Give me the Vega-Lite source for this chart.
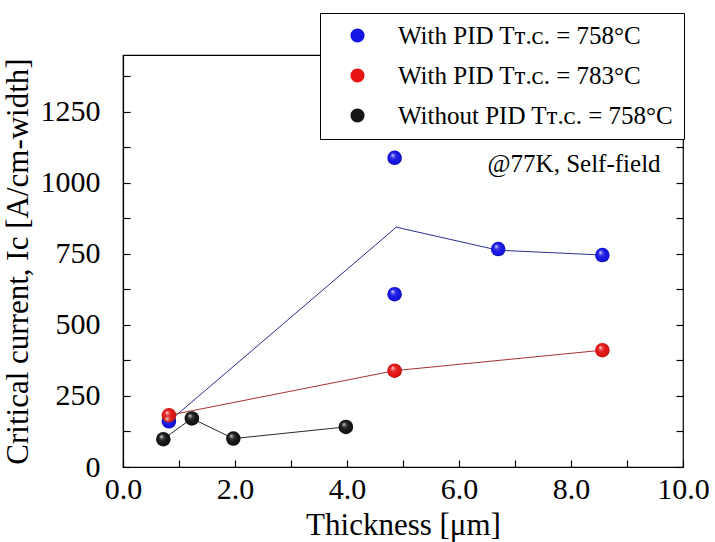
{
  "$schema": "https://vega.github.io/schema/vega-lite/v6.json",
  "width": 560,
  "height": 412,
  "autosize": "none",
  "padding": {"left": 123, "top": 55, "right": 32, "bottom": 75},
  "background": "white",
  "config": {"view": {"stroke": "black", "strokeWidth": 1.2}, "font": "Liberation Serif"},
  "datasets": {
    "pts": [
      {"series": "With PID Tᴛ.ᴄ. = 758°C", "thickness": 0.82, "ic": 161},
      {"series": "With PID Tᴛ.ᴄ. = 758°C", "thickness": 4.85, "ic": 1088},
      {"series": "With PID Tᴛ.ᴄ. = 758°C", "thickness": 4.85, "ic": 608},
      {"series": "With PID Tᴛ.ᴄ. = 758°C", "thickness": 6.70, "ic": 767},
      {"series": "With PID Tᴛ.ᴄ. = 758°C", "thickness": 8.56, "ic": 746},
      {"series": "With PID Tᴛ.ᴄ. = 783°C", "thickness": 0.82, "ic": 182},
      {"series": "With PID Tᴛ.ᴄ. = 783°C", "thickness": 4.85, "ic": 339},
      {"series": "With PID Tᴛ.ᴄ. = 783°C", "thickness": 8.56, "ic": 411},
      {"series": "Without PID Tᴛ.ᴄ. = 758°C", "thickness": 0.72, "ic": 98},
      {"series": "Without PID Tᴛ.ᴄ. = 758°C", "thickness": 1.23, "ic": 171},
      {"series": "Without PID Tᴛ.ᴄ. = 758°C", "thickness": 1.97, "ic": 100},
      {"series": "Without PID Tᴛ.ᴄ. = 758°C", "thickness": 3.98, "ic": 141}
    ],
    "lines": [
      {"series": "A", "thickness": 0.85, "ic": 165},
      {"series": "A", "thickness": 4.88, "ic": 844},
      {"series": "A", "thickness": 6.70, "ic": 763},
      {"series": "A", "thickness": 8.56, "ic": 746},
      {"series": "B", "thickness": 0.82, "ic": 182},
      {"series": "B", "thickness": 4.85, "ic": 339},
      {"series": "B", "thickness": 8.56, "ic": 411},
      {"series": "C", "thickness": 0.72, "ic": 98},
      {"series": "C", "thickness": 1.23, "ic": 171},
      {"series": "C", "thickness": 1.97, "ic": 100},
      {"series": "C", "thickness": 3.98, "ic": 141}
    ]
  },
  "resolve": {"axis": {"x": "independent", "y": "independent"}},
  "layer": [
    {
      "data": {"name": "lines"},
      "mark": {"type": "line", "strokeWidth": 1},
      "encoding": {
        "x": {"field": "thickness", "type": "quantitative", "scale": {"domain": [0, 10], "nice": false}, "axis": null},
        "y": {"field": "ic", "type": "quantitative", "scale": {"domain": [0, 1450], "nice": false}, "axis": null},
        "stroke": {"field": "series", "type": "nominal", "scale": {"domain": ["A", "B", "C"], "range": ["#2b2f8f", "#a83232", "#2a2a2a"]}, "legend": null}
      }
    },
    {
      "data": {"name": "pts"},
      "mark": {"type": "circle", "size": 210, "opacity": 1},
      "encoding": {
        "x": {
          "field": "thickness", "type": "quantitative",
          "title": "Thickness [μm]",
          "axis": {
            "values": [0, 1, 2, 3, 4, 5, 6, 7, 8, 9, 10],
            "labelExpr": "datum.value % 2 == 0 ? format(datum.value, '.1f') : ''",
            "tickSize": -7, "tickColor": "black", "tickWidth": 1.2,
            "labelPadding": 14, "labelFontSize": 30, "labelColor": "black",
            "titleFontSize": 31, "titleFontWeight": "normal", "titleColor": "black", "titlePadding": 6,
            "domainColor": "black", "domainWidth": 1.2, "grid": false, "labelFlush": false, "labelOverlap": false
          }
        },
        "y": {
          "field": "ic", "type": "quantitative",
          "title": "Critical current, Ic [A/cm-width]",
          "axis": {
            "values": [0, 125, 250, 375, 500, 625, 750, 875, 1000, 1125, 1250, 1375],
            "labelExpr": "datum.value % 250 == 0 ? format(datum.value, 'd') : ''",
            "tickSize": -7, "tickColor": "black", "tickWidth": 1.2,
            "labelPadding": 30, "labelFontSize": 30, "labelColor": "black",
            "titleFontSize": 31, "titleFontWeight": "normal", "titleColor": "black", "titlePadding": 6,
            "domainColor": "black", "domainWidth": 1.2, "grid": false, "labelOverlap": false
          }
        },
        "color": {
          "field": "series", "type": "nominal",
          "scale": {"domain": ["With PID Tᴛ.ᴄ. = 758°C", "With PID Tᴛ.ᴄ. = 783°C", "Without PID Tᴛ.ᴄ. = 758°C"], "range": ["#1515e6", "#e81515", "#151515"]},
          "legend": {
            "title": null, "orient": "none", "legendX": 197, "legendY": -42,
            "fillColor": "white", "strokeColor": "black", "padding": 10,
            "labelFontSize": 25, "labelFont": "Liberation Serif", "labelColor": "black", "labelLimit": 0,
            "symbolType": "circle", "symbolSize": 200, "symbolStrokeWidth": 0, "symbolOffset": 15,
            "labelOffset": 28, "rowPadding": 14
          }
        }
      }
    },
    {
      "data": {"name": "pts"},
      "mark": {
        "type": "circle", "size": 210, "opacity": 1,
        "fill": {"gradient": "radial", "x1": 0.35, "y1": 0.3, "r1": 0, "x2": 0.5, "y2": 0.5, "r2": 0.55,
          "stops": [
            {"offset": 0, "color": "rgba(255,255,255,0.85)"},
            {"offset": 0.3, "color": "rgba(255,255,255,0.15)"},
            {"offset": 0.75, "color": "rgba(0,0,0,0)"},
            {"offset": 1, "color": "rgba(0,0,0,0.35)"}
          ]}
      },
      "encoding": {
        "x": {"field": "thickness", "type": "quantitative", "axis": null},
        "y": {
          "field": "ic", "type": "quantitative",
          "axis": {
            "orient": "right",
            "values": [0, 125, 250, 375, 500, 625, 750, 875, 1000, 1125, 1250, 1375],
            "labels": false, "title": null, "domain": false, "grid": false,
            "tickSize": -7, "tickColor": "black", "tickWidth": 1.2
          }
        }
      }
    },
    {
      "data": {"values": [{"note": "@77K, Self-field"}]},
      "mark": {"type": "text", "align": "right", "baseline": "middle", "fontSize": 25, "font": "Liberation Serif", "color": "black"},
      "encoding": {
        "x": {"datum": 9.6, "type": "quantitative", "axis": null},
        "y": {"datum": 1068, "type": "quantitative", "axis": null},
        "text": {"field": "note"}
      }
    }
  ]
}
